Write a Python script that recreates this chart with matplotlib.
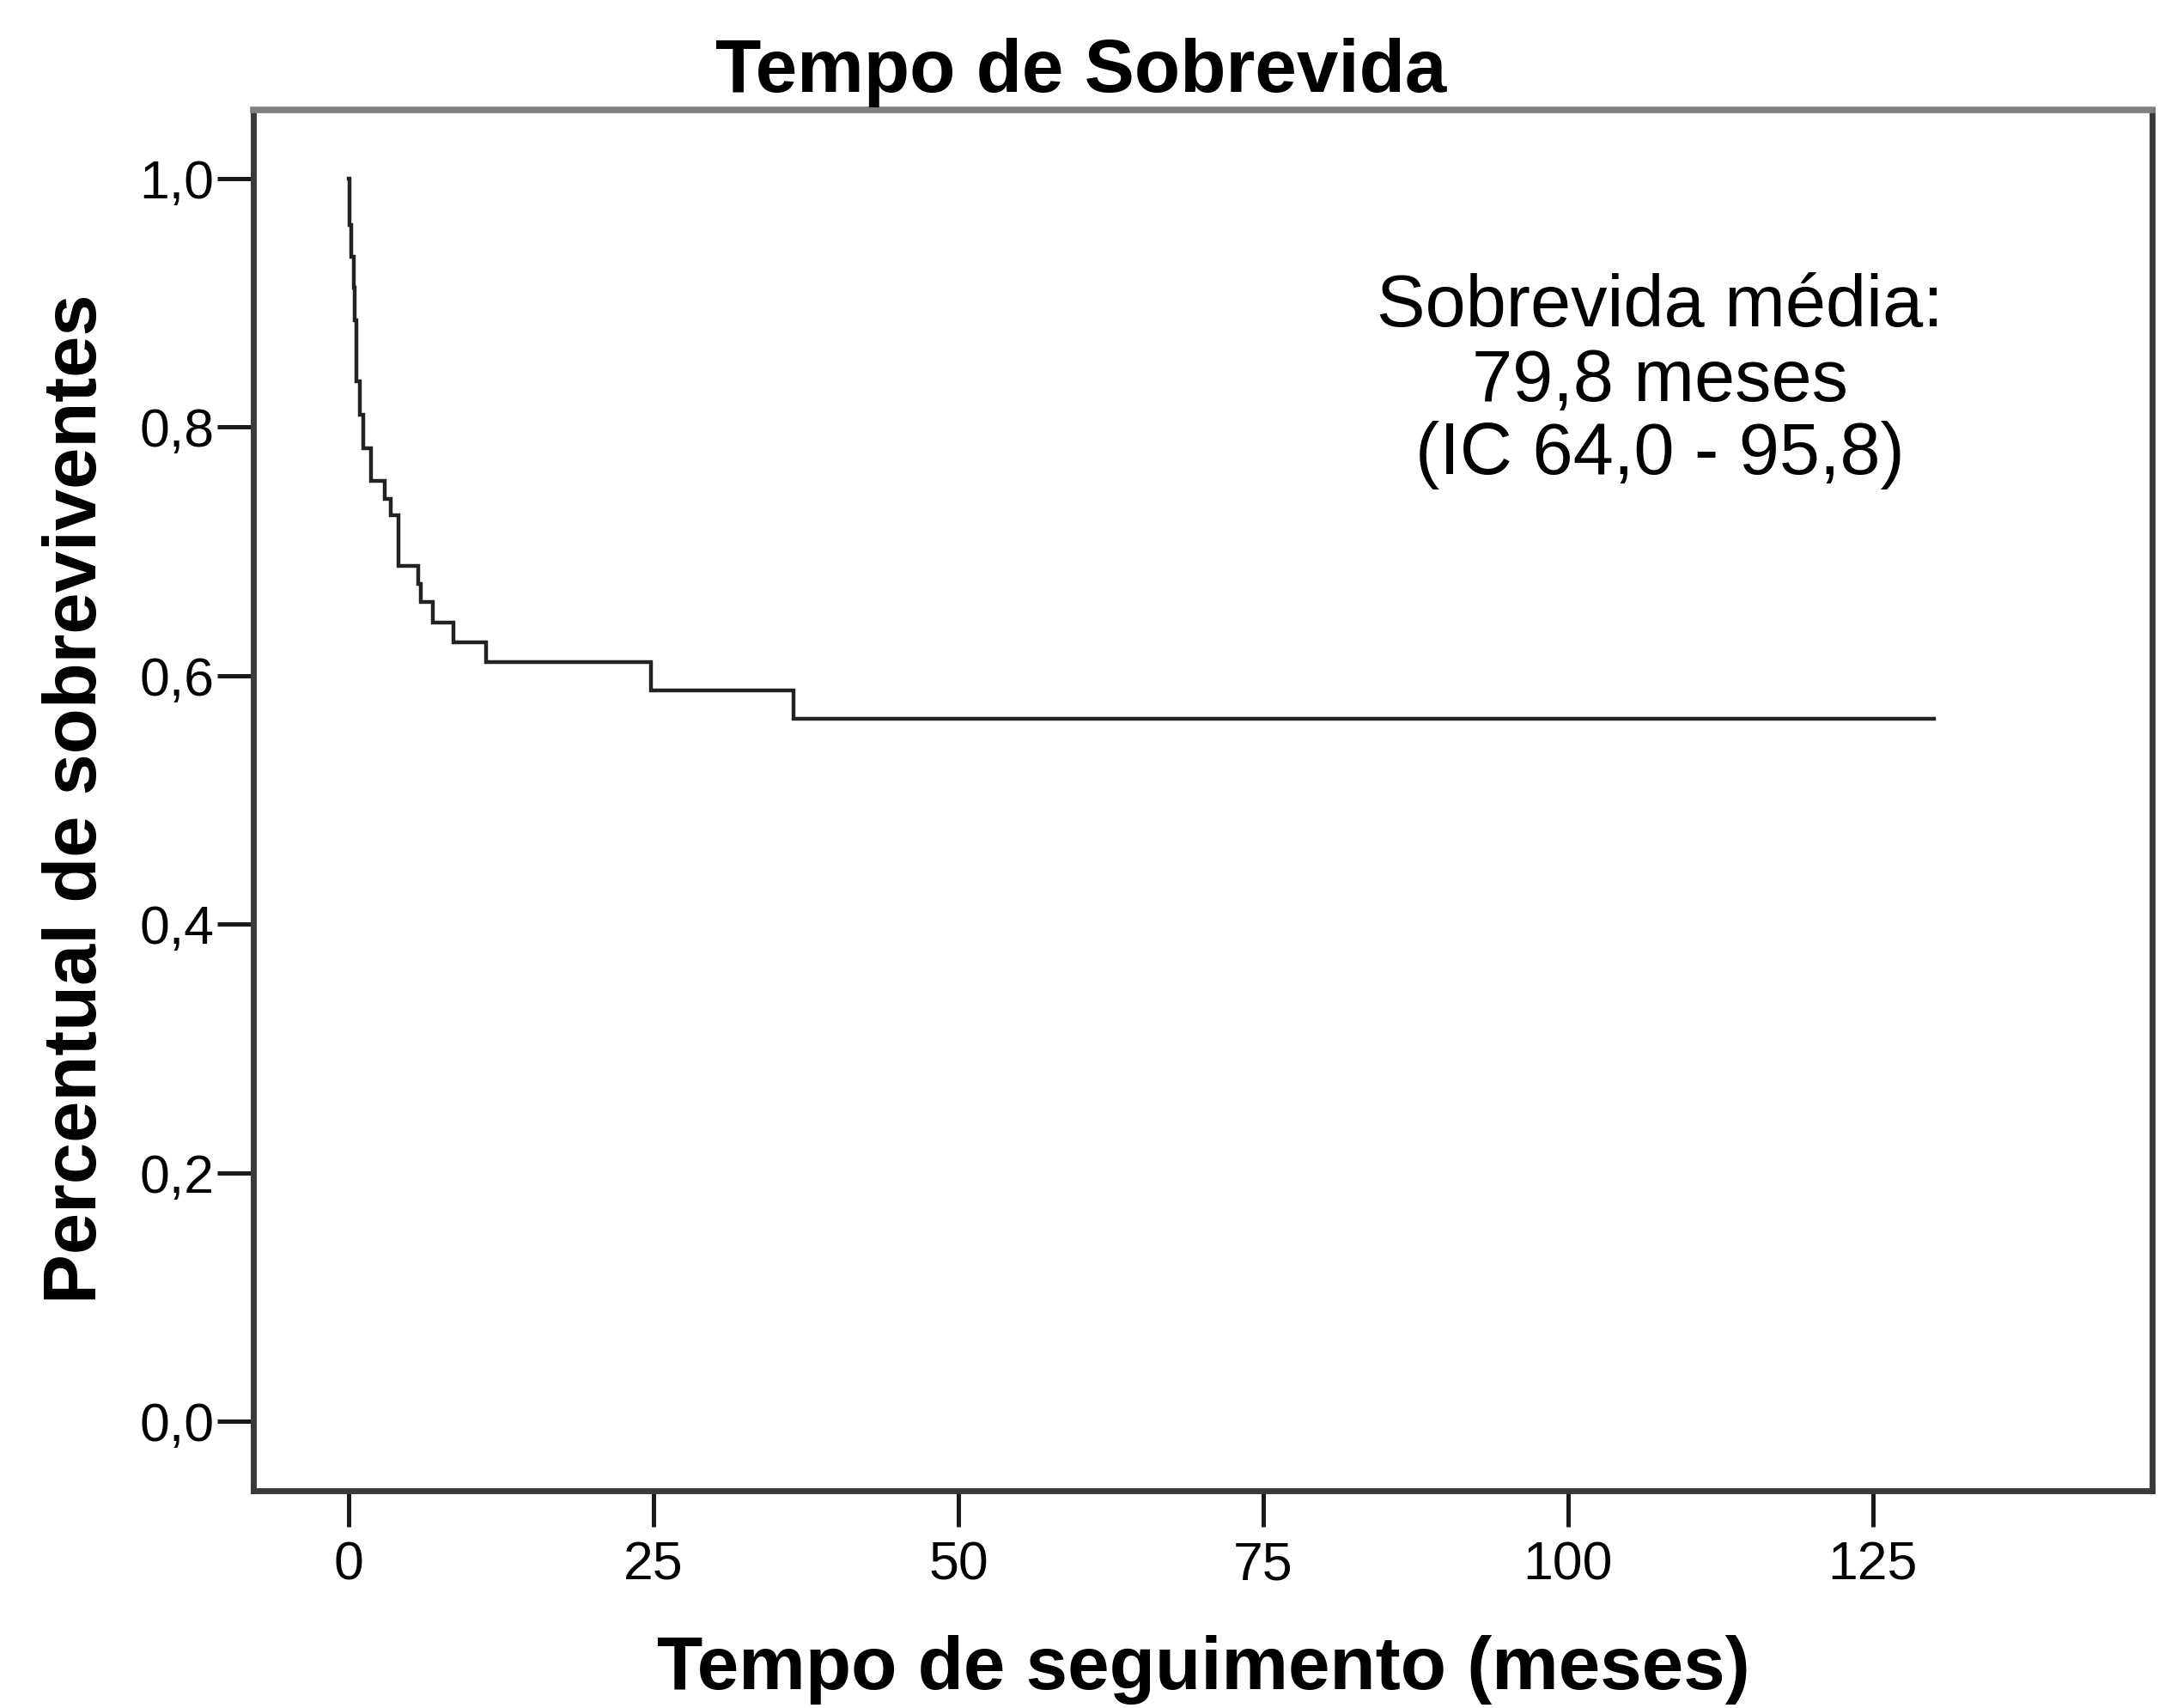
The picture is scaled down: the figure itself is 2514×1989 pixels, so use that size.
import matplotlib
matplotlib.use("Agg")
import matplotlib.pyplot as plt
import numpy as np

plt.rcParams['font.family'] = ['Liberation Sans', 'DejaVu Sans']

# ---- data ----
step_times = [0.00, 0.05, 0.23, 0.40, 0.52, 0.63, 0.94, 1.22, 1.81, 2.98, 3.45,
              4.08, 5.68, 5.92, 6.93, 8.62, 11.25, 24.81, 36.5, 130.0]
step_surv = [1.000, 0.963, 0.937, 0.912, 0.886, 0.837, 0.810, 0.783, 0.757, 0.742,
             0.729, 0.688, 0.674, 0.659, 0.643, 0.627, 0.611, 0.588, 0.565, 0.565]
x_ticks = [0, 25, 50, 75, 100, 125]
y_ticks = [0.0, 0.2, 0.4, 0.6, 0.8, 1.0]
y_tick_labels = ["0,0", "0,2", "0,4", "0,6", "0,8", "1,0"]
title = "Tempo de Sobrevida"
xlabel = "Tempo de seguimento (meses)"
ylabel = "Percentual de sobreviventes"
note_lines = ["Sobrevida média:", "79,8 meses", "(IC 64,0 - 95,8)"]

W, H = 2514, 1989
fig = plt.figure(figsize=(W / 100, H / 100), dpi=100)
ax = fig.add_axes([295 / W, 1 - 1735.5 / H, (2506 - 295) / W, (1735.5 - 128) / H])

ax.step(step_times, step_surv, where='post', color='#222222', lw=3.2,
        solid_joinstyle='miter')

ax.set_xlim(-7.82, 147.9)
ax.set_ylim(-0.0556, 1.0553)
ax.set_xticks(x_ticks)
ax.set_xticklabels([str(t) for t in x_ticks])
ax.set_yticks(y_ticks)
ax.set_yticklabels(y_tick_labels)

for side in ['left', 'bottom', 'right']:
    ax.spines[side].set_color('#3a3a3a')
    ax.spines[side].set_linewidth(5)
ax.spines['top'].set_color('#808080')
ax.spines['top'].set_linewidth(5.5)

ax.tick_params(axis='both', direction='out', length=30, width=3.6,
               color='#1a1a1a', labelsize=45, labelcolor='black')
ax.tick_params(axis='x', pad=12)
ax.tick_params(axis='y', pad=3)

fig.text(1258.5 / W, 1 - 106.7 / H, title, ha='center', va='baseline',
         fontsize=62.8, fontweight='bold')
fig.text(1401 / W, 1 - 1967 / H, xlabel, ha='center', va='baseline',
         fontsize=62.8, fontweight='bold')
fig.text(112 / W, 1 - 930 / H, ylabel, ha='center', va='baseline',
         rotation=90, rotation_mode='anchor', fontsize=62.5, fontweight='bold')

baselines = [380, 467, 552]
for line, yb in zip(note_lines, baselines):
    fig.text(1933 / W, 1 - yb / H, line, ha='center', va='baseline', fontsize=61)

fig.savefig("out.png", dpi=100, facecolor='white')
